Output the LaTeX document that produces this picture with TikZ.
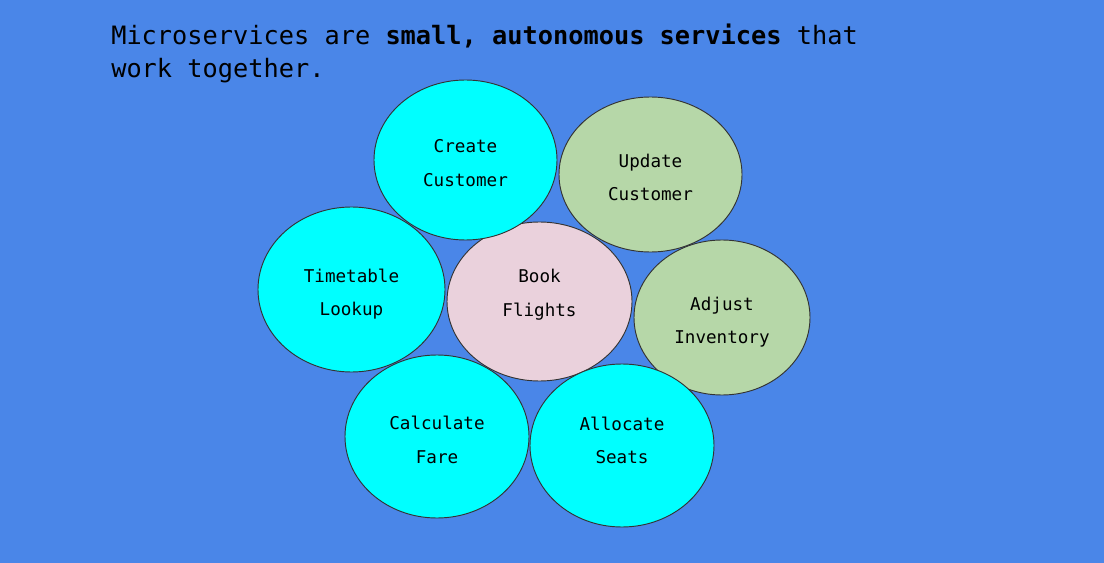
\documentclass[tikz,border=0pt]{standalone}
\usepackage{fontspec}
\setmonofont{DejaVu Sans Mono}
\usetikzlibrary{shapes.geometric}
\definecolor{bgblue}{HTML}{4A86E8}
\definecolor{svccyan}{HTML}{00FFFF}
\definecolor{svcgreen}{HTML}{B6D7A8}
\definecolor{svcpink}{HTML}{EAD1DC}
\definecolor{edgegray}{HTML}{333333}
% first baseline placed #1 above the ellipse centre
\newcommand\svclines[2][0pt]{\raisebox{#1}[0pt][0pt]{\begin{tabular}[t]{@{}c@{}}#2\end{tabular}}}
\tikzset{
  svc/.style={ellipse, draw=edgegray, line width=0.7pt, inner sep=0pt,
    font=\ttfamily\fontsize{13.2pt}{25.1pt}\selectfont, text=black},
  cyansvc/.style={svc, fill=svccyan},
  greensvc/.style={svc, fill=svcgreen},
  pinksvc/.style={svc, fill=svcpink},
  titletext/.style={anchor=base west, inner sep=0pt, font=\ttfamily\fontsize{18.98pt}{24.75pt}\selectfont, text=black}
}
\begin{document}
\begin{tikzpicture}[x=0.75pt,y=-0.75pt]
\fill[bgblue] (0,0) rectangle (1104,563);
\useasboundingbox (0,0) rectangle (1104,563);
\node[titletext] (title1) at (111,45) {Microservices are \textbf{small, autonomous services} that};
\node[titletext] (title2) at (111,78) {work together.};
\node[pinksvc, minimum width=138.75pt, minimum height=119.25pt] (book) at (539.5,301.5) {\svclines[13.9pt]{Book\\Flights}};
\node[cyansvc, minimum width=137.25pt, minimum height=120pt] (create) at (465.5,160) {\svclines[5.25pt]{Create\\Customer}};
\node[greensvc, minimum width=137.25pt, minimum height=116.25pt] (update) at (650.5,174.5) {\svclines[5.6pt]{Update\\Customer}};
\node[cyansvc, minimum width=140.25pt, minimum height=123.75pt] (timetable) at (351.5,289.5) {\svclines[5.6pt]{Timetable\\Lookup}};
\node[greensvc, minimum width=132pt, minimum height=116.25pt] (adjust) at (722,317.5) {\svclines[5.6pt]{Adjust\\Inventory}};
\node[cyansvc, minimum width=138pt, minimum height=122.25pt] (fare) at (437,436.5) {\svclines[4.9pt]{Calculate\\Fare}};
\node[cyansvc, minimum width=138pt, minimum height=122.25pt] (seats) at (622,445.5) {\svclines[11.6pt]{Allocate\\Seats}};
\end{tikzpicture}
\end{document}
